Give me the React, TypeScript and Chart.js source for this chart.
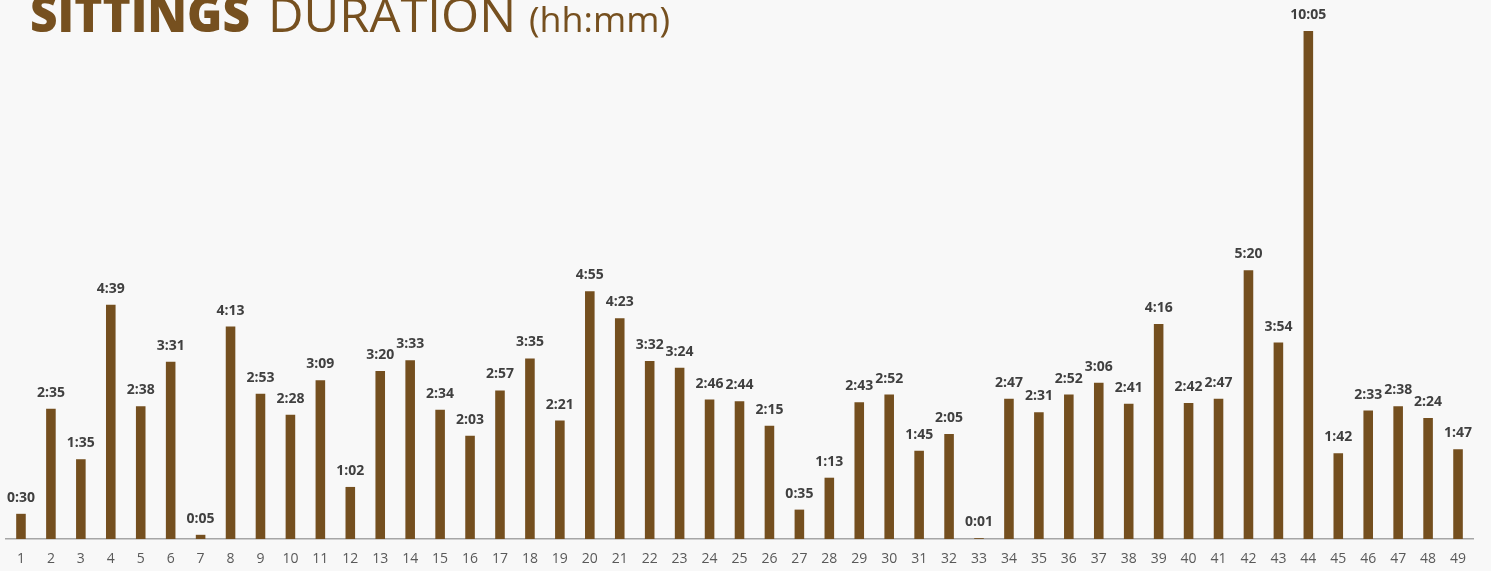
import React, { useEffect, useRef } from 'react';
import { Chart, registerables } from 'chart.js';

Chart.register(...registerables);

const categories: string[] = [
  '1', '2', '3', '4', '5', '6', '7', '8', '9', '10',
  '11', '12', '13', '14', '15', '16', '17', '18', '19', '20',
  '21', '22', '23', '24', '25', '26', '27', '28', '29', '30',
  '31', '32', '33', '34', '35', '36', '37', '38', '39', '40',
  '41', '42', '43', '44', '45', '46', '47', '48', '49',
];

// Sitting durations in minutes
const durations: number[] = [
  30, 155, 95, 279, 158, 211, 5, 253, 173, 148,
  189, 62, 200, 213, 154, 123, 177, 215, 141, 295,
  263, 212, 204, 166, 164, 135, 35, 73, 163, 172,
  105, 125, 1, 167, 151, 172, 186, 161, 256, 162,
  167, 320, 234, 605, 102, 153, 158, 144, 107,
];

const yMax = 605;

const BAR_COLOR = '#744f1f';
const TITLE_COLOR = '#76501f';
const LABEL_COLOR = '#404040';
const TICK_COLOR = '#595959';
const BG = '#f8f8f8';

const fmt = (m: number) => `${Math.floor(m / 60)}:${String(m % 60).padStart(2, '0')}`;

const labelPlugin = {
  id: 'barLabels',
  afterDatasetsDraw(chart: any) {
    const ctx = chart.ctx;
    const meta = chart.getDatasetMeta(0);
    ctx.save();
    ctx.font = "bold 14px 'Open Sans'";
    ctx.fillStyle = LABEL_COLOR;
    ctx.textAlign = 'center';
    ctx.textBaseline = 'alphabetic';
    meta.data.forEach((el: any, i: number) => {
      ctx.fillText(fmt(durations[i]), el.x, el.y - 12);
    });
    ctx.restore();
  },
};

const drawScaled = (ctx: CanvasRenderingContext2D, text: string, x: number, y: number, width: number) => {
  const w = ctx.measureText(text).width;
  ctx.save();
  ctx.translate(x, y);
  ctx.scale(width / w, 1);
  ctx.fillText(text, 0, 0);
  ctx.restore();
};

const titlePlugin = {
  id: 'titleText',
  beforeDraw(chart: any) {
    const ctx = chart.ctx;
    ctx.save();
    ctx.fillStyle = BG;
    ctx.fillRect(0, 0, chart.width, chart.height);
    ctx.restore();
  },
  afterDraw(chart: any) {
    const ctx = chart.ctx as CanvasRenderingContext2D;
    ctx.save();
    ctx.fillStyle = TITLE_COLOR;
    ctx.textAlign = 'left';
    ctx.textBaseline = 'alphabetic';
    ctx.font = "800 49px 'Open Sans'";
    drawScaled(ctx, 'SITTINGS', 30, 32, 220);
    ctx.font = "400 48px 'Open Sans'";
    drawScaled(ctx, 'DURATION', 268, 32, 248);
    ctx.font = "400 35px 'Open Sans'";
    drawScaled(ctx, '(hh:mm)', 529, 32, 141);
    ctx.restore();
  },
};

export default function App() {
  const ref = useRef<HTMLCanvasElement | null>(null);

  useEffect(() => {
    if (!ref.current) return;
    const chart = new Chart(ref.current, {
      type: 'bar',
      data: {
        labels: categories,
        datasets: [
          {
            data: durations,
            backgroundColor: BAR_COLOR,
            borderWidth: 0,
            categoryPercentage: 1,
            barPercentage: 0.32,
          },
        ],
      },
      options: {
        responsive: false,
        animation: false,
        devicePixelRatio: 1,
        layout: { padding: { left: 6, right: 18, top: 31, bottom: 0 } },
        plugins: {
          legend: { display: false },
          title: { display: false },
          tooltip: { enabled: false },
        },
        scales: {
          x: {
            offset: true,
            grid: { display: false, drawTicks: false },
            border: { display: true, color: '#a6a6a6', width: 1.5 },
            ticks: {
              color: TICK_COLOR,
              font: { family: "'Open Sans'", size: 14 },
              padding: 12,
              maxRotation: 0,
              autoSkip: false,
            },
            afterFit: (s: any) => {
              s.height = 32;
            },
          },
          y: {
            display: false,
            min: 0,
            max: yMax,
          },
        },
      },
      plugins: [labelPlugin, titlePlugin],
    });
    return () => chart.destroy();
  }, []);

  return (
    <div style={{ position: 'fixed', left: 0, top: 0, width: 1491, height: 571, background: BG }}>
      <canvas ref={ref} width={1491} height={571} style={{ display: 'block', width: 1491, height: 571 }} />
    </div>
  );
}
